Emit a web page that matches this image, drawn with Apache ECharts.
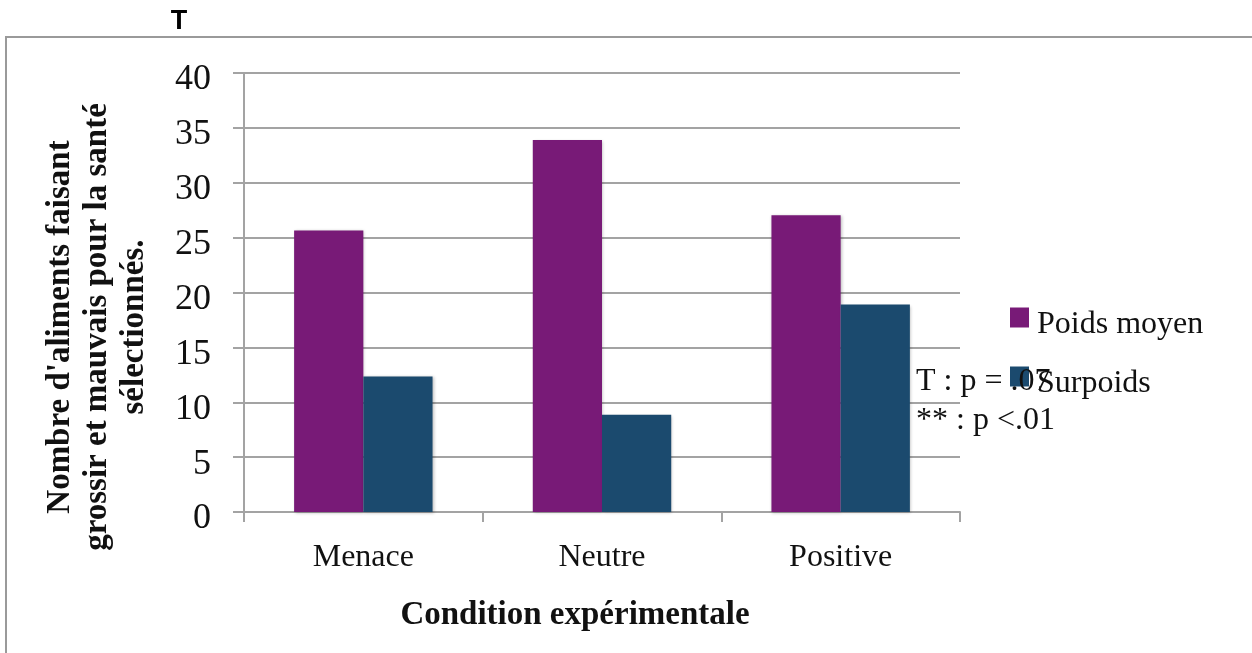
<!DOCTYPE html>
<html>
<head>
<meta charset="utf-8">
<script src="https://cdn.jsdelivr.net/npm/echarts@6/dist/echarts.min.js"></script>
<style>
html,body{margin:0;padding:0;background:#fff;}
#chart{width:1252px;height:653px;}
</style>
</head>
<body>
<div id="chart"></div>
<script>
const categories = ['Menace', 'Neutre', 'Positive'];
const seriesNames = ['Poids moyen', 'Surpoids'];
const poidsMoyen = [25.65, 33.9, 27.05];
const surpoids = [12.35, 8.85, 18.9];
const yTicks = [0, 5, 10, 15, 20, 25, 30, 35, 40];
const xTitle = 'Condition expérimentale';
const yTitle = "Nombre d'aliments faisant\ngrossir et mauvais pour la santé\nsélectionnés.";
const notes = ['T : p = .07', '** : p <.01'];
const topLetter = 'T';

const serif = '"Liberation Serif", "Times New Roman", serif';
const gray = '#a3a3a3';
const barShadow = {shadowColor: 'rgba(0,0,0,0.25)', shadowBlur: 3, shadowOffsetX: 1, shadowOffsetY: 1};

const chart = echarts.init(document.getElementById('chart'));
chart.setOption({
  animation: false,
  backgroundColor: '#fff',
  grid: {left: 244, right: 292, top: 73, bottom: 141, containLabel: false},
  legend: {
    orient: 'vertical',
    left: 1010,
    top: 294,
    padding: 0,
    itemWidth: 19,
    itemHeight: 20,
    itemGap: 12,
    icon: 'rect',
    data: seriesNames,
    formatter: '{t|{name}}',
    textStyle: {
      fontFamily: serif, fontSize: 32, color: '#111', padding: [0, 0, 0, 3],
      rich: {t: {fontFamily: serif, fontSize: 32, color: '#111', lineHeight: 32, padding: [15, 0, 0, 0]}}
    },
    selectedMode: false
  },
  xAxis: {
    type: 'category',
    data: categories,
    axisLine: {show: true, lineStyle: {color: gray, width: 2}},
    axisTick: {show: true, length: 10, alignWithLabel: false, lineStyle: {color: gray, width: 2}},
    axisLabel: {fontFamily: serif, fontSize: 32, color: '#111', margin: 30},
    splitLine: {show: false}
  },
  yAxis: {
    type: 'value',
    min: yTicks[0],
    max: yTicks[yTicks.length - 1],
    interval: yTicks[1] - yTicks[0],
    axisLine: {show: true, lineStyle: {color: gray, width: 2}},
    axisTick: {show: true, inside: false, length: 11, lineStyle: {color: gray, width: 2}},
    axisLabel: {
      margin: 33,
      formatter: '{a|{value}}',
      rich: {a: {fontFamily: serif, fontSize: 36, color: '#111', padding: [14, 0, 0, 0]}}
    },
    splitLine: {show: true, lineStyle: {color: gray, width: 2}}
  },
  series: [
    {
      name: seriesNames[0], type: 'bar', data: poidsMoyen,
      barGap: '0%', barCategoryGap: '42%',
      itemStyle: Object.assign({color: '#781a77'}, barShadow)
    },
    {
      name: seriesNames[1], type: 'bar', data: surpoids,
      barGap: '0%', barCategoryGap: '42%',
      itemStyle: Object.assign({color: '#1b4a6e'}, barShadow)
    }
  ],
  graphic: [
    {type: 'rect', z: -1, shape: {x: 6, y: 37, width: 1400, height: 800}, style: {fill: 'none', stroke: '#9a9a9a', lineWidth: 2}},
    {type: 'text', x: 179, y: 22, z: 10, style: {text: topLetter, font: 'bold 27px "Liberation Sans", Arial, sans-serif', fill: '#000', align: 'center', verticalAlign: 'middle'}},
    {type: 'text', x: 575, y: 615, z: 10, style: {text: xTitle, font: 'bold 33px ' + serif, fill: '#111', align: 'center', verticalAlign: 'middle'}},
    {type: 'text', x: 97, y: 327, rotation: Math.PI / 2, z: 10, style: {text: yTitle, font: 'bold 33px ' + serif, fill: '#111', align: 'center', verticalAlign: 'middle', lineHeight: 37}},
    {type: 'text', x: 916, y: 382, z: 100, style: {text: notes[0], font: '32px ' + serif, fill: '#111', align: 'left', verticalAlign: 'middle'}},
    {type: 'text', x: 916, y: 421, z: 100, style: {text: notes[1], font: '32px ' + serif, fill: '#111', align: 'left', verticalAlign: 'middle'}}
  ]
});
</script>
</body>
</html>
